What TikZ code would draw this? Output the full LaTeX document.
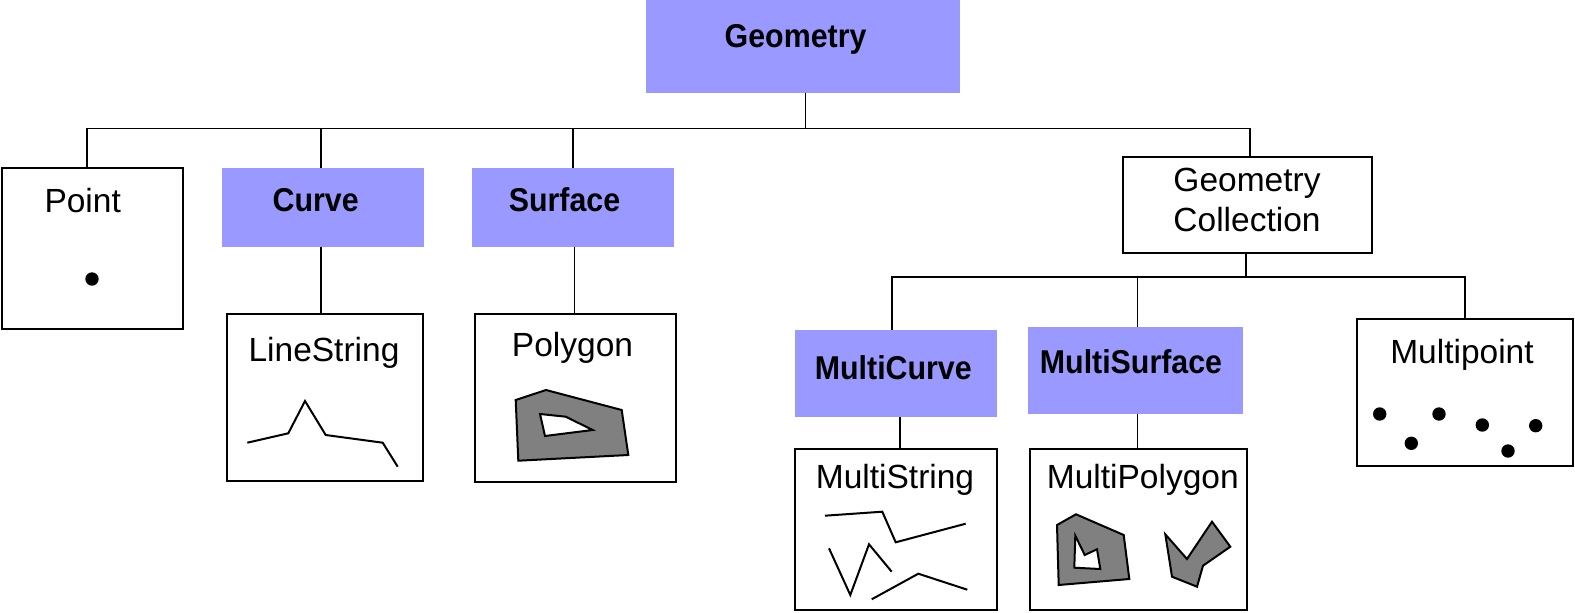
\documentclass[tikz,border=0pt]{standalone}
\usepackage{fontspec}
\setmainfont{Liberation Sans}
\newfontfamily\hbold[FakeStretch=0.92]{Liberation Sans}
\definecolor{lav}{RGB}{153,153,255}
\definecolor{polyg}{RGB}{128,128,128}
\tikzset{
  base/.style={inner sep=0pt, outer sep=0pt},
  wbox/.style={base, draw=black, line width=2pt, fill=white},
  cbox/.style={base, fill=lav},
  lbl/.style={inner sep=0pt, anchor=base, font=\fontsize{33.5}{40}\selectfont},
  blbl/.style={inner sep=0pt, anchor=base, font=\hbold\bfseries\fontsize{33}{40}\selectfont},
  conn/.style={line width=1.6pt},
  shp/.style={line width=2pt, line join=miter},
  poly/.style={line width=2pt, fill=polyg, even odd rule, line join=miter}
}
\begin{document}
\begin{tikzpicture}[x=1pt,y=-1pt]
\useasboundingbox (0,0) rectangle (1575,613);
% boxes
\node[cbox, minimum width=314pt, minimum height=92.7pt] (geom) at (803,46.3) {};
\node[wbox, minimum width=181pt, minimum height=160.8pt] (point) at (92.2,248.1) {};
\node[cbox, minimum width=202.3pt, minimum height=78.4pt] (curve) at (322.9,207.5) {};
\node[cbox, minimum width=202pt, minimum height=78.4pt] (surface) at (573,207.5) {};
\node[wbox, minimum width=196.6pt, minimum height=167pt] (linestring) at (325,397.5) {};
\node[wbox, minimum width=201pt, minimum height=168pt] (polygon) at (575.5,398) {};
\node[wbox, minimum width=248.4pt, minimum height=95.4pt] (gc) at (1247.5,205) {};
\node[cbox, minimum width=202.3pt, minimum height=87.3pt] (mcurve) at (896.2,373.7) {};
\node[cbox, minimum width=215.6pt, minimum height=87.3pt] (msurf) at (1135.5,370.3) {};
\node[wbox, minimum width=216.3pt, minimum height=146.7pt] (mpoint) at (1464.8,392.7) {};
\node[wbox, minimum width=202pt, minimum height=160.4pt] (mstring) at (896,529.5) {};
\node[wbox, minimum width=216.7pt, minimum height=160.4pt] (mpoly) at (1138.3,529.5) {};
% connectors
\coordinate (bus1) at (805,128.3);
\coordinate (bus2) at (1246,276.7);
\draw[conn] ([xshift=2.5pt]geom.south) -- ([xshift=2.5pt]geom.south |- bus1);
\draw[conn] ([xshift=-5pt]point.north) |- ([xshift=2.5pt]gc.north |- bus1) -- ([xshift=2.5pt]gc.north);
\draw[conn] ([xshift=-2.2pt]curve.north) -- ([xshift=-2.2pt]curve.north |- bus1);
\draw[conn] (surface.north) -- (surface.north |- bus1);
\draw[conn] ([xshift=-2.2pt]curve.south) -- ([xshift=-2.2pt]curve.south |- linestring.north);
\draw[conn] ([xshift=1.5pt]surface.south) -- ([xshift=1.5pt]surface.south |- polygon.north);
\draw[conn] ([xshift=-1.8pt]gc.south) -- ([xshift=-1.8pt]gc.south |- bus2);
\draw[conn] ([xshift=-4.5pt]mcurve.north) |- (mpoint.north |- bus2) -- (mpoint.north);
\draw[conn] ([xshift=1.8pt]msurf.north) -- ([xshift=1.8pt]msurf.north |- bus2);
\draw[conn] ([xshift=3.8pt]mcurve.south) -- ([xshift=3.8pt]mcurve.south |- mstring.north);
\draw[conn] ([xshift=1.8pt]msurf.south) -- ([xshift=1.8pt]msurf.south |- mpoly.north);
% labels
\node[blbl] (tgeom) at (795.6,47) {Geometry};
\node[lbl] (tpoint) at (82.7,212.3) {Point};
\node[blbl] (tcurve) at (315.7,211) {Curve};
\node[blbl] (tsurface) at (564.5,211) {Surface};
\node[lbl] (tlinestring) at (324,361.7) {LineString};
\node[lbl] (tpolygon) at (572.5,356.7) {Polygon};
\node[lbl] (tgc1) at (1247,191.7) {Geometry};
\node[lbl] (tgc2) at (1247,231) {Collection};
\node[blbl] (tmcurve) at (893.3,379) {MultiCurve};
\node[blbl] (tmsurf) at (1131,373) {MultiSurface};
\node[lbl] (tmpoint) at (1462,363.3) {Multipoint};
\node[lbl] (tmstring) at (895,488.3) {MultiString};
\node[lbl] (tmpoly) at (1142.8,488.3) {MultiPolygon};
% point
\fill (92,279) circle (6.7);
% linestring
\draw[shp] (247.3,442.7) -- (288.3,433.3) -- (305,401) -- (325.7,435) -- (382.7,442.7) -- (397.7,466.7);
% polygon
\draw[poly] (515.7,400) -- (546,390) -- (621.7,410) -- (628.3,455) -- (518.3,460.7) -- cycle
  (540,414) -- (565.7,416.7) -- (592.7,430) -- (545,436) -- cycle;
% multistring
\draw[shp] (825,515.7) -- (882.3,511.7) -- (895.7,542.3) -- (965.7,523.7);
\draw[shp] (829,548.3) -- (850.3,595) -- (869,544.3) -- (891.7,571.7);
\draw[shp] (871.7,599.3) -- (918.3,573.7) -- (967.3,589.7);
% multipolygon
\draw[poly] (1057,525) -- (1076,514.3) -- (1123.7,535) -- (1129.3,579) -- (1058.7,585) -- cycle
  (1075.3,535.7) -- (1084.7,555) -- (1097,549.3) -- (1100.3,569) -- (1074.3,567.7) -- cycle;
\draw[poly] (1165.3,534.3) -- (1187,559) -- (1212,521.7) -- (1230.3,546.7) -- (1203,565.7) -- (1197,586.7) -- (1172,576.7) -- cycle;
% multipoint
\foreach \px/\py in {1379.7/414, 1411.3/443.3, 1439/414, 1482.3/425, 1508/451, 1535.7/425.7}
  \fill (\px,\py) circle (6.7);
\end{tikzpicture}
\end{document}
